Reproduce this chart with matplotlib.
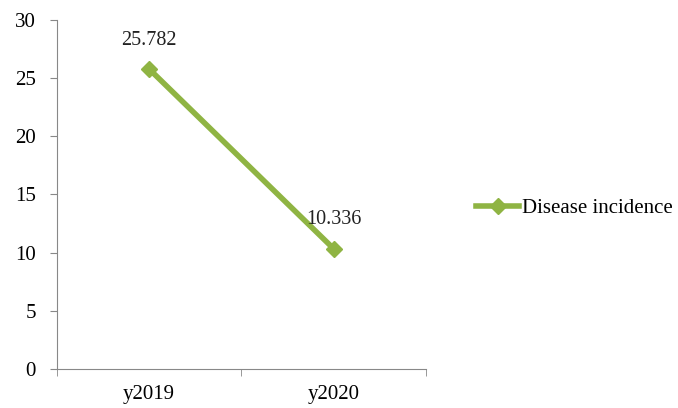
import matplotlib
matplotlib.use("Agg")
import matplotlib.pyplot as plt
from matplotlib.ticker import FixedLocator

categories = ["y2019", "y2020"]
incidence = [25.782, 10.336]
y_ticks = [0, 5, 10, 15, 20, 25, 30]

plt.rcParams["font.family"] = ["Liberation Serif", "DejaVu Serif"]

fig = plt.figure(figsize=(6.78, 4.08), dpi=100)
ax = fig.add_axes([0.084, 0.096, 0.544, 0.855])

green = "#8FB443"
x = list(range(len(categories)))
ax.plot(x, incidence, color=green, linewidth=4, marker="D", markersize=8,
        label="Disease incidence")

for xi, v in zip(x, incidence):
    ax.annotate(f"{v:g}", (xi, v), xytext=(0, 14), textcoords="offset points",
                ha="center", va="bottom", fontsize=14.5, color="#222222")

ax.set_xlim(-0.5, len(categories) - 0.5)
ax.set_ylim(0, 30)
ax.set_yticks(y_ticks)
ax.set_xticks(x)
ax.set_xticklabels(categories)
ax.xaxis.set_minor_locator(FixedLocator([i - 0.5 for i in range(len(categories) + 1)]))
ax.tick_params(axis="x", which="major", length=0, pad=12, labelsize=15)
ax.tick_params(axis="x", which="minor", length=5, direction="out", color="#888888")
ax.tick_params(axis="y", length=5, direction="out", color="#888888", labelsize=15, pad=10)

for side in ("top", "right"):
    ax.spines[side].set_visible(False)
for side in ("left", "bottom"):
    ax.spines[side].set_color("#888888")

fig.legend(loc="center left", bbox_to_anchor=(0.674, 0.49), frameon=False,
           fontsize=15, handlelength=2.1, handletextpad=0.1)

fig.savefig("out.png", dpi=100)
